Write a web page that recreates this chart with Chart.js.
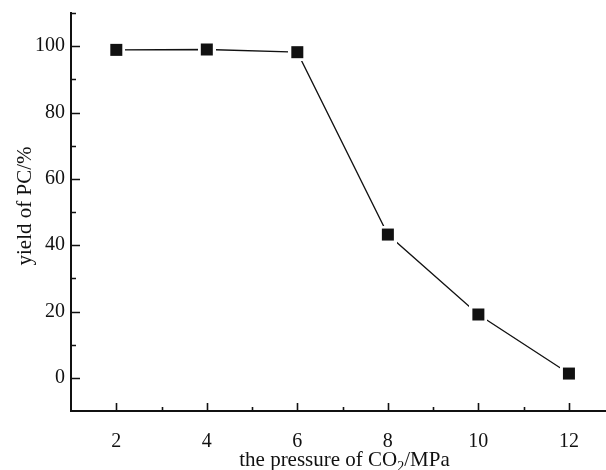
<!DOCTYPE html>
<html>
<head>
<meta charset="utf-8">
<script src="https://cdn.jsdelivr.net/npm/chart.js@4/dist/chart.umd.min.js"></script>
<style>
  html, body { margin: 0; padding: 0; background: #fff; }
  #wrap { width: 606px; height: 470px; }
</style>
</head>
<body>
<div id="wrap"><canvas id="c" width="606" height="470"></canvas></div>
<script>
// CO2 pressure (MPa) and propylene carbonate yield (%)
const pressure = [2, 4, 6, 8, 10, 12];
const yieldPC = [98.9, 99.0, 98.2, 43.2, 19.1, 1.3];

// tick labels shown on each axis
const xTickLabels = [2, 4, 6, 8, 10, 12];
const yTickLabels = [0, 20, 40, 60, 80, 100];

const FONT = "'Liberation Serif', 'Times New Roman', serif";
const INK = '#111';

// square marker with a white halo so the connecting line stops short of it
function makeMarker() {
  const side = 12, halo = 3;
  const cv = document.createElement('canvas');
  cv.width = cv.height = side + 2 * halo;
  const g = cv.getContext('2d');
  g.fillStyle = '#fff';
  g.fillRect(0, 0, cv.width, cv.height);
  g.fillStyle = INK;
  g.fillRect(halo, halo, side, side);
  return cv;
}

// inward tick marks and axis titles
const axisDecor = {
  id: 'axisDecor',
  afterDraw(chart) {
    const ctx = chart.ctx;
    const xs = chart.scales.x, ys = chart.scales.y;
    const area = chart.chartArea;
    ctx.save();
    ctx.strokeStyle = INK;
    ctx.lineWidth = 1.6;
    ctx.beginPath();
    ys.ticks.forEach(t => {
      const v = t.value;
      if (v <= ys.min) return;
      const py = Math.round(ys.getPixelForValue(v)) + 0.5;
      const len = (v % 20 === 0) ? 9 : 5;
      ctx.moveTo(area.left, py);
      ctx.lineTo(area.left + len, py);
    });
    xs.ticks.forEach(t => {
      const v = t.value;
      if (v <= xs.min || v > xs.max) return;
      const px = Math.round(xs.getPixelForValue(v)) + 0.5;
      const len = (v % 2 === 0) ? 8 : 4;
      ctx.moveTo(px, area.bottom);
      ctx.lineTo(px, area.bottom - len);
    });
    ctx.stroke();

    ctx.fillStyle = INK;
    ctx.textBaseline = 'alphabetic';
    // x title with subscript
    const mainFont = '21px ' + FONT, subFont = '14px ' + FONT;
    const parts = [['the pressure of CO', mainFont, 0], ['2', subFont, 5], ['/MPa', mainFont, 0]];
    let total = 0;
    parts.forEach(p => { ctx.font = p[1]; total += ctx.measureText(p[0]).width; });
    let x = (area.left + area.right) / 2 + 6 - total / 2;
    const base = 466;
    ctx.textAlign = 'left';
    parts.forEach(p => {
      ctx.font = p[1];
      ctx.fillText(p[0], x, base + p[2]);
      x += ctx.measureText(p[0]).width;
    });
    // y title
    ctx.save();
    ctx.translate(31, 206);
    ctx.rotate(-Math.PI / 2);
    ctx.font = mainFont;
    ctx.textAlign = 'center';
    ctx.fillText('yield of PC/%', 0, 0);
    ctx.restore();
    ctx.restore();
  }
};

new Chart(document.getElementById('c'), {
  type: 'line',
  data: {
    datasets: [{
      data: pressure.map((p, i) => ({ x: p, y: yieldPC[i] })),
      borderColor: INK,
      borderWidth: 1.3,
      tension: 0,
      pointStyle: makeMarker(),
      pointRadius: 9,
      pointHoverRadius: 9
    }]
  },
  options: {
    responsive: false,
    animation: false,
    events: [],
    layout: { autoPadding: false, padding: { top: 13, right: 0, left: 0, bottom: 0 } },
    plugins: { legend: { display: false }, tooltip: { enabled: false } },
    scales: {
      x: {
        type: 'linear',
        min: 1,
        max: 12.82,
        afterFit(s) { s.height = 59; s.paddingLeft = 0; s.paddingRight = 0; },
        grid: { display: false, drawTicks: false },
        border: { display: true, color: INK, width: 2 },
        ticks: {
          stepSize: 1,
          includeBounds: false,
          autoSkip: false,
          maxRotation: 0,
          padding: 19,
          color: INK,
          font: { family: FONT, size: 20 },
          callback: v => xTickLabels.includes(v) ? String(v) : ''
        }
      },
      y: {
        type: 'linear',
        min: -10,
        max: 110,
        afterFit(s) { s.width = 71; s.paddingTop = 0; s.paddingBottom = 0; },
        grid: { display: false, drawTicks: false },
        border: { display: true, color: INK, width: 2 },
        ticks: {
          stepSize: 10,
          autoSkip: false,
          padding: 6,
          color: INK,
          font: { family: FONT, size: 20 },
          callback: v => yTickLabels.includes(v) ? String(v) : ''
        }
      }
    }
  },
  plugins: [axisDecor]
});
</script>
</body>
</html>
